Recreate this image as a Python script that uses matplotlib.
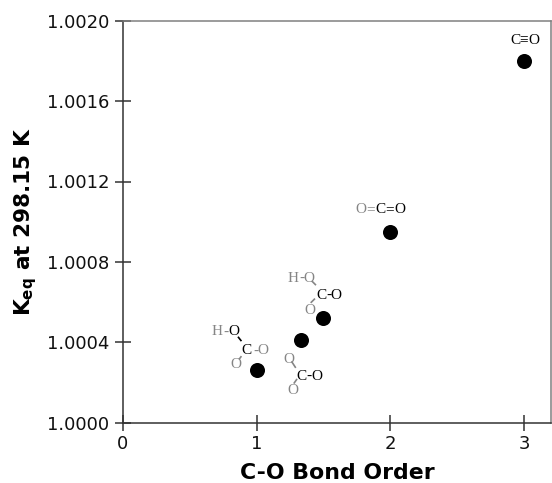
import matplotlib
matplotlib.use("Agg")
import matplotlib.pyplot as plt
from matplotlib.transforms import IdentityTransform

bond_order = [1.0, 1.33, 1.5, 2.0, 3.0]
keq = [1.00026, 1.00041, 1.00052, 1.00095, 1.0018]
x_ticks = [0, 1, 2, 3]
y_ticks = [1.0000, 1.0004, 1.0008, 1.0012, 1.0016, 1.0020]
y_tick_labels = ["1.0000", "1.0004", "1.0008", "1.0012", "1.0016", "1.0020"]
x_label = "C-O Bond Order"

GREY = "#858585"
BLACK = "#000000"

# per-point structure labels: (glyph, colour, dx px, dy px from the marker)
structure_text = [
    [("H", GREY, -39.7, 40), ("-", GREY, -31.2, 40), ("O", BLACK, -23.2, 40),
     ("C", BLACK, -10.2, 21), ("-", GREY, -1.2, 21), ("O", GREY, 6.3, 21), ("O", GREY, -21.2, 7)],
    [("O", GREY, -11.7, -17.6), ("C", BLACK, 0.7, -34.3), ("-", BLACK, 8.3, -34.3),
     ("O", BLACK, 16.3, -34.3), ("O", GREY, -8.3, -48.6)],
    [("H", GREY, -30, 41), ("-", GREY, -22, 41), ("O", GREY, -14.5, 41),
     ("C", BLACK, -2.5, 24), ("-", BLACK, 5, 24), ("O", BLACK, 12.5, 24), ("O", GREY, -13.5, 9)],
    [("O", GREY, -29.3, 23.7), ("=", GREY, -19.3, 23.7), ("C", BLACK, -10, 23.7),
     ("=", BLACK, -0.7, 23.7), ("O", BLACK, 9.3, 23.7)],
    [("C", BLACK, -9, 21.7), ("\u2261", BLACK, 0, 21.7), ("O", BLACK, 10, 21.7)],
]
# per-point bond strokes: (colour, dx0, dy0, dx1, dy1 px from the marker)
structure_bonds = [
    [(BLACK, -18.7, 33.7, -15.2, 29.3), (GREY, -17.7, 11, -15.2, 14.3)],
    [(GREY, -9.3, -21, -5, -27.6), (GREY, -7, -43.3, -3.7, -38.6)],
    [(GREY, -11.8, 37.3, -7.5, 33), (GREY, -12.8, 15.3, -8.5, 19.6)],
    [],
    [],
]

plt.rcParams["mathtext.default"] = "bf"

fig = plt.figure(figsize=(5.52, 4.83), dpi=100)
ax = fig.add_axes([123 / 552, 1 - 422.7 / 483, (550.7 - 123) / 552, (422.7 - 20.7) / 483])
ax.set_xlim(0, 3.2)
ax.set_ylim(1.0, 1.002)
ax.scatter(bond_order, keq, s=117, color="black", zorder=3, linewidths=0, clip_on=False)

fig.canvas.draw()
serif = ["Liberation Serif", "DejaVu Serif"]
for xv, yv, pieces, bonds in zip(bond_order, keq, structure_text, structure_bonds):
    px, py = ax.transData.transform((xv, yv))
    for glyph, col, dx, dy in pieces:
        ax.annotate(glyph, (xv, yv), xytext=(dx, dy), textcoords="offset pixels",
                    ha="center", va="center_baseline", fontsize=11, color=col, family=serif)
    for col, x0, y0, x1, y1 in bonds:
        ax.plot([px + x0, px + x1], [py + y0, py + y1], color=col, lw=1.2,
                transform=IdentityTransform(), solid_capstyle="butt", zorder=2)

ax.set_xticks(x_ticks)
ax.set_yticks(y_ticks)
ax.set_yticklabels(y_tick_labels)
ax.tick_params(axis="both", direction="inout", length=12, width=1.1, color="#333333",
               labelsize=13, labelcolor="#111111")
ax.tick_params(axis="y", pad=4)
ax.tick_params(axis="x", pad=3)
for side, col in (("left", "#333333"), ("bottom", "#333333"), ("top", "#808080"), ("right", "#808080")):
    ax.spines[side].set_color(col)
    ax.spines[side].set_linewidth(1.1)

ax.set_xlabel(x_label, fontsize=15.8, fontweight="bold", labelpad=7.2)
ax.set_ylabel(r"K$_{\mathbf{eq}}$ at 298.15 K", fontsize=15.6, fontweight="bold", labelpad=5.5)
fig.savefig("out.png", dpi=100)
